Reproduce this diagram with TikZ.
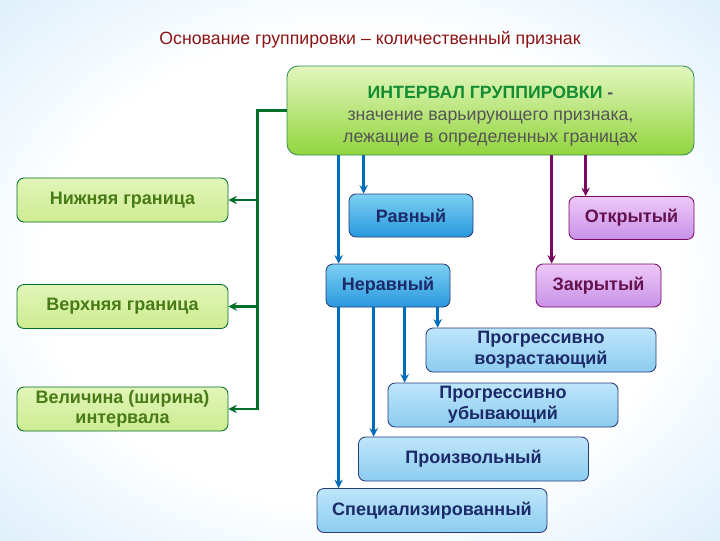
\documentclass[tikz,border=0pt]{standalone}
\usepackage{fontspec}
\setmainfont{Liberation Sans}
\usetikzlibrary{positioning, arrows.meta}
\usepackage{xcolor}
\definecolor{sky}{RGB}{172,216,244}
\definecolor{titlered}{RGB}{140,20,20}
\definecolor{leafgreen}{RGB}{0,112,40}
\definecolor{limetop}{RGB}{225,245,185}
\definecolor{limebot}{RGB}{205,236,145}
\definecolor{limetext}{RGB}{72,122,22}
\definecolor{headtop}{RGB}{226,247,190}
\definecolor{headbot}{RGB}{146,212,62}
\definecolor{headgreen}{RGB}{20,140,50}
\definecolor{greytext}{RGB}{85,85,85}
\definecolor{flowblue}{RGB}{0,108,188}
\definecolor{navytext}{RGB}{28,42,105}
\definecolor{navyline}{RGB}{40,60,120}
\definecolor{cyantop}{RGB}{125,208,242}
\definecolor{cyanbot}{RGB}{40,152,222}
\definecolor{paletop}{RGB}{190,230,250}
\definecolor{palebot}{RGB}{140,204,240}
\definecolor{plum}{RGB}{120,10,100}
\definecolor{lilactop}{RGB}{238,200,248}
\definecolor{lilacbot}{RGB}{200,145,232}
\definecolor{plumtext}{RGB}{100,18,78}

\newcommand{\pxu}{0.025cm}
\pgfdeclareradialshading{skyglow}{\pgfpoint{0bp}{0bp}}{color(0bp)=(white); color(22bp)=(white); color(56bp)=(sky); color(75bp)=(sky)}

\begin{document}
\begin{tikzpicture}[x=\pxu, y=-\pxu,
    basebox/.style={rectangle, rounded corners=5pt, line width=0.6pt,
                    align=center, inner sep=2pt},
    limebox/.style={basebox, draw=leafgreen, top color=limetop, bottom color=limebot,
                    minimum width=211*\pxu, minimum height=44*\pxu, text=limetext,
                    font=\fontsize{12.8}{14.5}\selectfont\bfseries},
    cyanbox/.style={basebox, draw=navyline, top color=cyantop, bottom color=cyanbot,
                    minimum width=124*\pxu, minimum height=43*\pxu, text=navytext,
                    font=\fontsize{12.8}{15}\selectfont\bfseries},
    lilacbox/.style={basebox, draw=plum, top color=lilactop, bottom color=lilacbot,
                    minimum width=125*\pxu, minimum height=43*\pxu, text=plumtext,
                    font=\fontsize{12.8}{15}\selectfont\bfseries},
    palebox/.style={basebox, draw=navyline, top color=paletop, bottom color=palebot,
                    minimum width=230*\pxu, minimum height=44*\pxu, text=navytext,
                    font=\fontsize{12.8}{15}\selectfont\bfseries},
    gline/.style={-{Stealth[length=6pt, width=6pt]}, color=leafgreen, line width=2pt},
    bline/.style={-{Stealth[length=6pt, width=6pt]}, color=flowblue, line width=2pt},
    pline/.style={-{Stealth[length=6pt, width=6pt]}, color=plum, line width=2pt},
]

% ─── Background ──────────────────────────────────────────────────
\useasboundingbox (0,0) rectangle (720,540);
\shade[shading=skyglow] (0,0) rectangle (720,540);

% ─── Title and main box ──────────────────────────────────────────
\node[text=titlered, font=\fontsize{12.6}{15}\selectfont] (title) at (370,40)
  {Основание группировки – количественный признак};

\node[basebox, draw=leafgreen!80, top color=headtop, bottom color=headbot,
      minimum width=407*\pxu, minimum height=89*\pxu, rounded corners=8pt,
      text=greytext, font=\fontsize{12.6}{15.6}\selectfont] (interval) at (490.5,110.5) {%
  \rule{0pt}{17pt}{\bfseries\color{headgreen}ИНТЕРВАЛ ГРУППИРОВКИ \color{greytext}-}\\
  значение варьирующего признака,\\
  лежащие в определенных границах%
};

% ─── Left column ─────────────────────────────────────────────────
\node[limebox] (lowerb) at (122.5,200) {Нижняя граница};
\node[limebox] (upperb) at (122.5,306.5) {Верхняя граница};
\node[limebox] (sizeb) at (122.5,409) {Величина (ширина)\\интервала};

% ─── Equal / unequal, open / closed ──────────────────────────────
\node[cyanbox] (equal) at (411,215.5) {Равный};
\node[cyanbox] (unequal) at (388,285.5) {Неравный};
\node[lilacbox] (openi) at (631.5,218) {Открытый};
\node[lilacbox] (closedi) at (598.5,285.5) {Закрытый};

% ─── Kinds of unequal intervals ──────────────────────────────────
\node[palebox] (incr) at (541,350) {Прогрессивно\\возрастающий};
\node[palebox] (decr) at (503,405) {Прогрессивно\\убывающий};
\node[palebox] (arbit) at (473.5,459) {Произвольный};
\node[palebox] (special) at (432,510.5) {Специализированный};

% ─── Connectors ──────────────────────────────────────────────────
\coordinate (gknee) at ([xshift=-29*\pxu]interval.west);
\draw[gline] (interval.west) -- (gknee) |- (sizeb.east);
\draw[gline] (gknee) |- (lowerb.east);
\draw[gline] (gknee) |- (upperb.east);

\coordinate (m1) at ([xshift=52*\pxu]interval.south west);
\coordinate (m2) at ([xshift=77*\pxu]interval.south west);
\coordinate (m3) at ([xshift=265*\pxu]interval.south west);
\coordinate (m4) at ([xshift=299*\pxu]interval.south west);
\draw[bline] (m1) -- (m1 |- unequal.north);
\draw[bline] (m2) -- (m2 |- equal.north);
\draw[pline] (m3) -- (m3 |- closedi.north);
\draw[pline] (m4) -- (m4 |- openi.north);

\coordinate (n1) at ([xshift=13*\pxu]unequal.south west);
\coordinate (n2) at ([xshift=48*\pxu]unequal.south west);
\coordinate (n3) at ([xshift=79*\pxu]unequal.south west);
\coordinate (n4) at ([xshift=112*\pxu]unequal.south west);
\draw[bline] (n1) -- (n1 |- special.north);
\draw[bline] (n2) -- (n2 |- arbit.north);
\draw[bline] (n3) -- (n3 |- decr.north);
\draw[bline] (n4) -- (n4 |- incr.north);

\end{tikzpicture}
\end{document}
